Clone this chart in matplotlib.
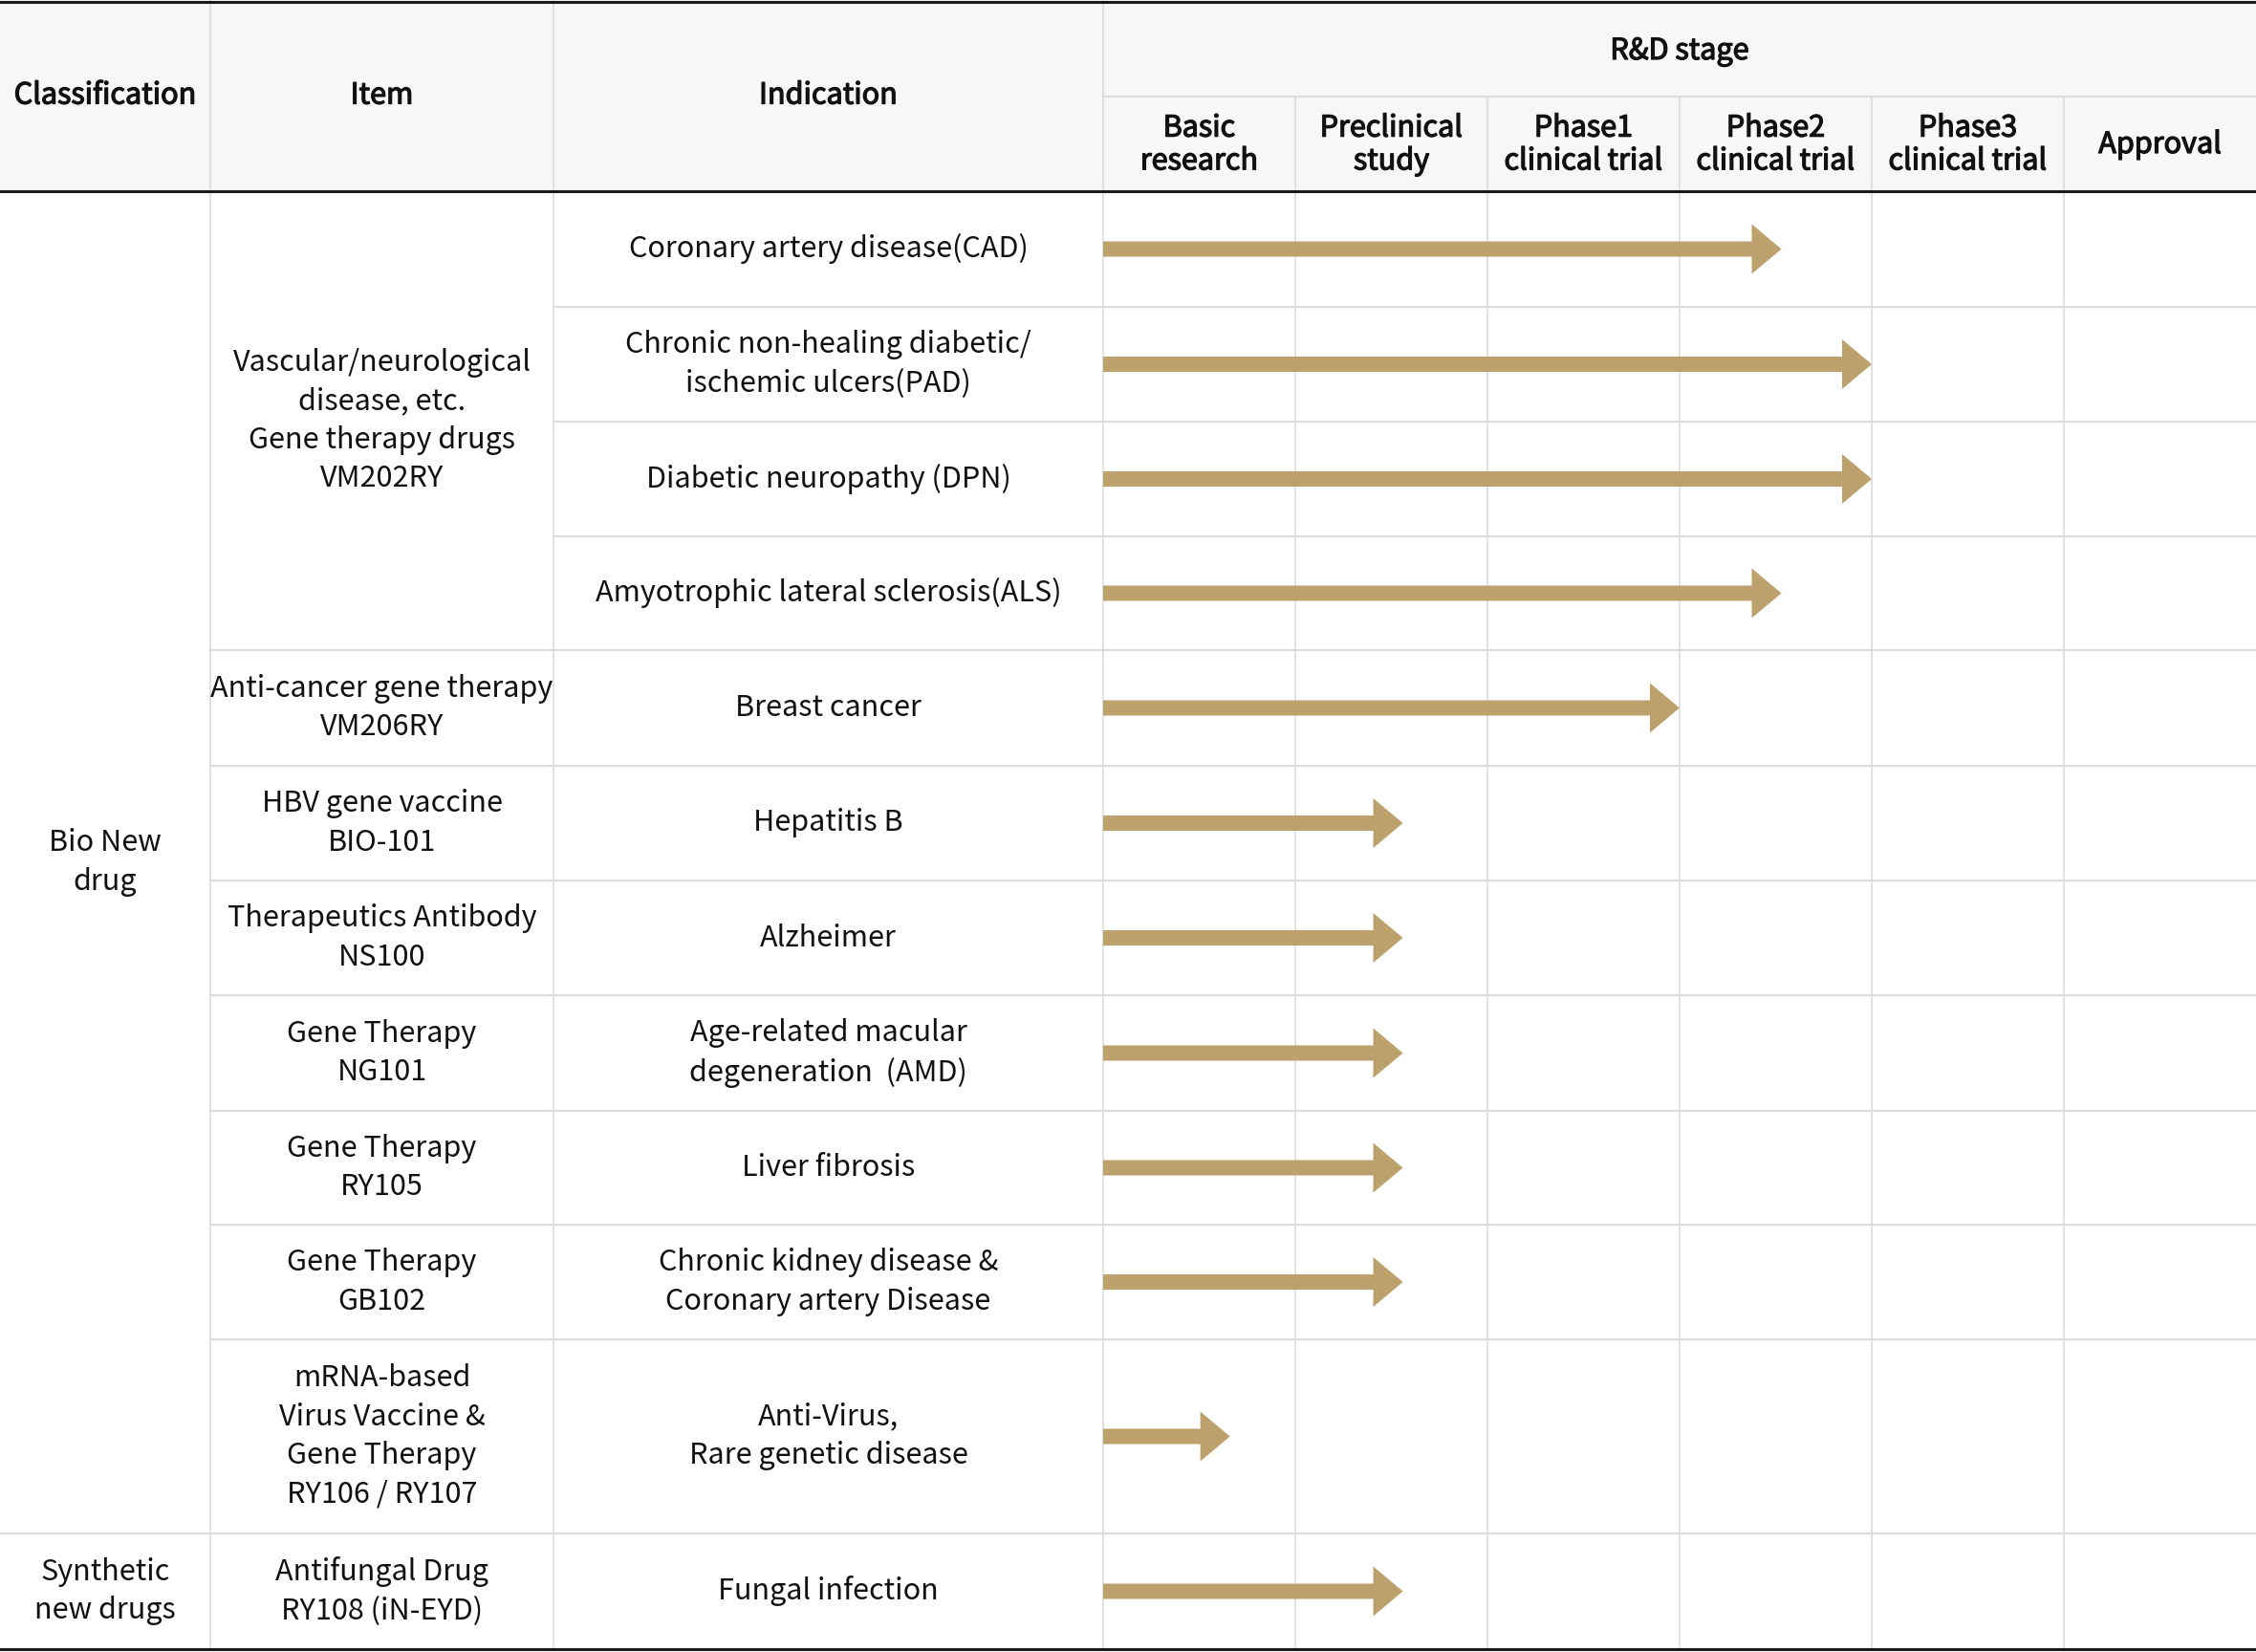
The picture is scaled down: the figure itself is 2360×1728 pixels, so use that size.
import matplotlib
matplotlib.use("Agg")
from matplotlib import pyplot as plt
from matplotlib import patheffects as pe

plt.rcParams['font.family'] = ['Noto Sans CJK KR', 'DejaVu Sans']

# table content
stages = ['Basic\nresearch', 'Preclinical\nstudy', 'Phase1\nclinical trial',
          'Phase2\nclinical trial', 'Phase3\nclinical trial', 'Approval']
indications = ['Coronary artery disease(CAD)',
               'Chronic non-healing diabetic/\nischemic ulcers(PAD)',
               'Diabetic neuropathy (DPN)',
               'Amyotrophic lateral sclerosis(ALS)',
               'Breast cancer',
               'Hepatitis B',
               'Alzheimer',
               'Age-related macular\ndegeneration  (AMD)',
               'Liver fibrosis',
               'Chronic kidney disease &\nCoronary artery Disease',
               'Anti-Virus,\nRare genetic disease',
               'Fungal infection']
# progress measured in stage columns from the left edge of "Basic research"
progress = [3.53, 4.0, 4.0, 3.53, 3.0, 1.56, 1.56, 1.56, 1.56, 1.56, 0.66, 1.56]
# (first row, number of rows, text)
items = [(0, 4, 'Vascular/neurological\ndisease, etc.\nGene therapy drugs\nVM202RY'),
         (4, 1, 'Anti-cancer gene therapy\nVM206RY'),
         (5, 1, 'HBV gene vaccine\nBIO-101'),
         (6, 1, 'Therapeutics Antibody\nNS100'),
         (7, 1, 'Gene Therapy\nNG101'),
         (8, 1, 'Gene Therapy\nRY105'),
         (9, 1, 'Gene Therapy\nGB102'),
         (10, 1, 'mRNA-based\nVirus Vaccine &\nGene Therapy\nRY106 / RY107'),
         (11, 1, 'Antifungal Drug\nRY108 (iN-EYD)')]
classes = [(0, 11, 'Bio New\ndrug'),
           (11, 1, 'Synthetic\nnew drugs')]

# layout (pixels)
W, H = 2360, 1728
col_x = [0, 220, 579, 1154]
stage_w = (W - col_x[3]) / len(stages)
head_mid, head_bot = 101, 200
row_h = [121, 120, 120, 119, 121, 120, 120, 121, 119, 120, 203, 121]
row_y = [head_bot]
for h in row_h:
    row_y.append(row_y[-1] + h)

grid = '#dcdcdc'
dark = '#1a1a1a'
gold = '#bda16c'
hdr_bg = '#f7f7f7'
fs = 22

fig = plt.figure(figsize=(W / 100, H / 100), dpi=100)
ax = fig.add_axes([0, 0, 1, 1])
ax.set_xlim(0, W)
ax.set_ylim(H, 0)
ax.axis('off')

ax.add_patch(plt.Rectangle((0, 0), W, head_bot, color=hdr_bg, lw=0, zorder=0))


def txt(x, y, s, header=False):
    t = ax.text(x, y, s, ha='center', va='center', fontsize=fs,
                color='#111111', linespacing=1.15 if header else 1.4, zorder=5)
    if header:
        # a bit heavier than the body text
        t.set_path_effects([pe.withStroke(linewidth=0.9, foreground='#111111')])


# header
sx = [col_x[3] + i * stage_w for i in range(len(stages) + 1)]
txt((col_x[0] + col_x[1]) / 2, head_bot / 2, 'Classification', True)
txt((col_x[1] + col_x[2]) / 2, head_bot / 2, 'Item', True)
txt((col_x[2] + col_x[3]) / 2, head_bot / 2, 'Indication', True)
txt((col_x[3] + W) / 2, head_mid / 2 + 3, 'R&D stage', True)
for i, s in enumerate(stages):
    txt((sx[i] + sx[i + 1]) / 2, (head_mid + head_bot) / 2 + 1, s, True)
for x in col_x[1:]:
    ax.plot([x, x], [0, head_bot], color=grid, lw=1.2)
for x in sx[1:-1]:
    ax.plot([x, x], [head_mid, head_bot], color=grid, lw=1.2)
ax.plot([col_x[3], W], [head_mid, head_mid], color=grid, lw=1.6)

# body vertical lines
for x in col_x[1:] + sx[1:-1]:
    ax.plot([x, x], [head_bot, row_y[-1]], color=grid, lw=1.2)

# horizontal lines per row boundary, skipping merged cells
for r in range(1, len(row_h)):
    y = row_y[r]
    x0 = col_x[2]
    if any(r == a for a, n, _ in items):
        x0 = col_x[1]
    if any(r == a for a, n, _ in classes):
        x0 = col_x[0]
    ax.plot([x0, W], [y, y], color=grid, lw=1.6)

for a, n, s in classes:
    txt((col_x[0] + col_x[1]) / 2, (row_y[a] + row_y[a + n]) / 2, s)
for a, n, s in items:
    txt((col_x[1] + col_x[2]) / 2, (row_y[a] + row_y[a + n]) / 2, s)
for r, s in enumerate(indications):
    yc = (row_y[r] + row_y[r + 1]) / 2
    txt((col_x[2] + col_x[3]) / 2, yc, s)
    ax.arrow(col_x[3], yc, progress[r] * stage_w, 0, width=16, head_width=52,
             head_length=31, length_includes_head=True, color=gold, lw=0, zorder=4)

# dark rules
ax.plot([0, W], [1.5, 1.5], color=dark, lw=2.2, zorder=6)
ax.plot([0, W], [head_bot, head_bot], color=dark, lw=2.2, zorder=6)
ax.plot([0, W], [row_y[-1], row_y[-1]], color=dark, lw=2.2, zorder=6)

fig.savefig('out.png', dpi=100)
